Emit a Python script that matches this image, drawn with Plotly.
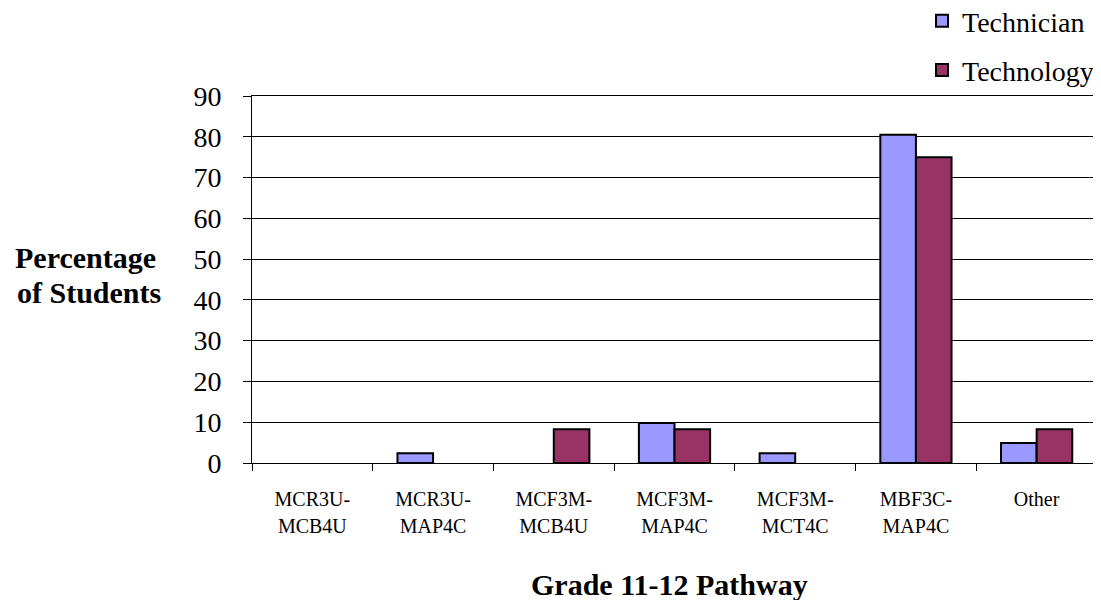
import plotly.graph_objects as go

categories = ["MCR3U-MCB4U", "MCR3U-MAP4C", "MCF3M-MCB4U", "MCF3M-MAP4C",
              "MCF3M-MCT4C", "MBF3C-MAP4C", "Other"]
label_line1 = ["MCR3U-", "MCR3U-", "MCF3M-", "MCF3M-", "MCF3M-", "MBF3C-", "Other"]
label_line2 = ["MCB4U", "MAP4C", "MCB4U", "MAP4C", "MCT4C", "MAP4C", ""]
technician = [0, 2.4, 0, 9.8, 2.4, 80.5, 4.9]
technology = [0, 0, 8.3, 8.3, 0, 75.0, 8.3]
y_ticks = [0, 10, 20, 30, 40, 50, 60, 70, 80, 90]

FONT = "Liberation Serif"

# page body has an 8px margin; figure sized to fit the 1101x600 window
OFF = 8
W, H = 1101 - OFF, 600 - OFF
L, R, T, B = 252 - OFF, W - (1097 - OFF), 96 - OFF, H - (463 - OFF)
PW, PH = W - L - R, H - T - B


def px_x(sx):
    return (sx - OFF - L) / PW


def px_y(sy):
    return (H - B - (sy - OFF)) / PH


def nonzero(vals):
    return [v if v > 0 else None for v in vals]


fig = go.Figure()
fig.add_trace(go.Bar(x=categories, y=nonzero(technician), name="Technician", legendgroup="a",
                     marker=dict(color="#9999FF", line=dict(color="black", width=2))))
fig.add_trace(go.Bar(x=categories, y=nonzero(technology), name="Technology", legendgroup="b",
                     marker=dict(color="#993366", line=dict(color="black", width=2))))

fig.update_layout(
    width=W, height=H,
    margin=dict(l=L, r=R, t=T, b=B, pad=0, autoexpand=False),
    paper_bgcolor="white", plot_bgcolor="white",
    font=dict(family=FONT, color="black"),
    barmode="group", bargap=0.41, bargroupgap=0,
    showlegend=True,
    legend=dict(x=(922 - OFF) / W, y=px_y(-4), xref="container", yref="paper",
                xanchor="left", yanchor="top",
                font=dict(size=28, family=FONT, color="black"), tracegroupgap=10,
                bgcolor="rgba(0,0,0,0)", itemwidth=30),
    xaxis=dict(type="category", categoryorder="array", categoryarray=categories,
               tickmode="array", tickvals=categories, ticktext=label_line1,
               showline=True, linecolor="black", linewidth=1, mirror=True,
               ticks="outside", tickson="boundaries", ticklen=7, tickcolor="black",
               tickfont=dict(size=20, family=FONT), showgrid=False, ticklabelstandoff=18),
    xaxis2=dict(overlaying="x", anchor="y", side="bottom", range=[-0.5, len(categories) - 0.5],
                tickmode="array", tickvals=list(range(len(categories))), ticktext=label_line2,
                ticks="outside", ticklen=7, tickcolor="rgba(0,0,0,0)",
                tickfont=dict(size=20, family=FONT), showgrid=False, showline=False,
                zeroline=False, ticklabelstandoff=38),
    yaxis=dict(range=[0, 90], tickvals=y_ticks, showline=True, linecolor="black",
               linewidth=1, mirror=True, ticks="outside", ticklen=8, tickcolor="black",
               tickfont=dict(size=28, family=FONT), showgrid=True, gridcolor="black",
               gridwidth=1, zeroline=False, ticklabelstandoff=16),
    annotations=[
        dict(text="<b>Percentage</b>", x=px_x(85), y=px_y(257), xref="paper", yref="paper",
             xanchor="center", yanchor="middle", showarrow=False,
             font=dict(size=30, family=FONT)),
        dict(text="<b>of Students</b>", x=px_x(89), y=px_y(292), xref="paper", yref="paper",
             xanchor="center", yanchor="middle", showarrow=False,
             font=dict(size=30, family=FONT)),
        dict(text="<b>Grade 11-12 Pathway</b>", x=px_x(669), y=px_y(584), xref="paper",
             yref="paper", xanchor="center", yanchor="middle", showarrow=False,
             font=dict(size=30, family=FONT)),
    ],
)
# invisible helper trace so the second bottom axis (second label line) is drawn
fig.add_trace(go.Scatter(x=[None], y=[None], xaxis="x2", yaxis="y", showlegend=False,
                         hoverinfo="skip"))

fig.write_html("out.html")
